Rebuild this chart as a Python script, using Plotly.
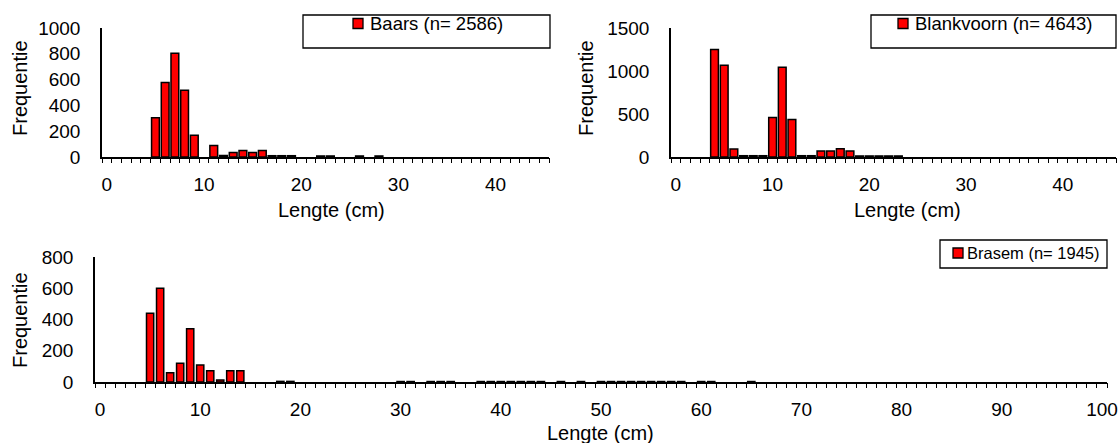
import plotly.graph_objects as go

# ---- data (length class in cm, frequency) ----
baars_len = [5, 6, 7, 8, 9, 11, 12, 13, 14, 15, 16, 17, 18, 19, 22, 23, 26, 28]
baars_cnt = [305, 577, 804, 517, 168, 90, 12, 34, 50, 34, 50, 10, 10, 10, 8, 8, 8, 8]

blank_len = [4, 5, 6, 7, 8, 9, 10, 11, 12, 13, 14, 15, 16, 17, 18, 19, 20, 21, 22, 23]
blank_cnt = [1249, 1066, 93, 15, 15, 15, 458, 1043, 435, 15, 15, 70, 70, 97, 70, 12, 12, 12, 12, 12]

brasem_len = [5, 6, 7, 8, 9, 10, 11, 12, 13, 14, 18, 19, 30, 31, 33, 34, 35, 38, 39, 40, 41,
              42, 43, 44, 46, 48, 50, 51, 52, 53, 54, 55, 56, 57, 58, 60, 61, 65]
brasem_cnt = [440, 600, 60, 120, 341, 109, 72, 13, 72, 72, 4, 4, 3, 3, 3, 3, 3, 3, 3, 3, 3,
              3, 3, 3, 3, 3, 3, 3, 3, 3, 3, 3, 3, 3, 3, 3, 3, 3]

names = ["Baars (n= 2586)", "Blankvoorn (n= 4643)", "Brasem (n= 1945)"]
x_title = "Lengte (cm)"
y_title = "Frequentie"

W, H = 1120, 443
FONT = "Liberation Sans, Arial, sans-serif"


def px(x):
    return x / W


def py(y):
    return 1 - y / H


fig = go.Figure()

bar_style = dict(marker=dict(color="#FF0000", line=dict(color="black", width=1.5)),
                 showlegend=False)
fig.add_trace(go.Bar(x=baars_len, y=baars_cnt, name=names[0], xaxis="x", yaxis="y",
                     width=0.8, **bar_style))
fig.add_trace(go.Bar(x=blank_len, y=blank_cnt, name=names[1], xaxis="x2", yaxis="y2",
                     width=0.8, **bar_style))
fig.add_trace(go.Bar(x=brasem_len, y=brasem_cnt, name=names[2], xaxis="x3", yaxis="y3",
                     width=0.72, **bar_style))

# invisible helper traces so the overlay tick axes get drawn
for xa, ya in [("x4", "y"), ("x5", "y2"), ("x6", "y3")]:
    fig.add_trace(go.Scatter(x=[0], y=[0], xaxis=xa, yaxis=ya, mode="markers",
                             marker=dict(opacity=0), showlegend=False, hoverinfo="skip"))


def xax(x0, x1, xmax, anchor):
    return dict(domain=[px(x0), px(x1)], range=[-0.5, xmax + 0.5], anchor=anchor,
                tickmode="linear", tick0=0, dtick=10, ticks="", ticklabelstandoff=9,
                showline=True, linecolor="black", linewidth=1.5,
                showgrid=False, zeroline=False,
                tickfont=dict(family=FONT, size=19, color="black"))


def tick_ax(x0, x1, xmax, anchor, over):
    return dict(domain=[px(x0), px(x1)], range=[-0.5, xmax + 0.5], anchor=anchor,
                overlaying=over, tickmode="linear", tick0=-0.5, dtick=1,
                ticks="outside", ticklen=5, tickwidth=1.3, tickcolor="black",
                showticklabels=False, showline=False, showgrid=False, zeroline=False)


def yax(y0, y1, ymax, step, anchor):
    return dict(domain=[py(y1), py(y0)], range=[0, ymax], anchor=anchor,
                tickmode="linear", tick0=0, dtick=step, ticks="",
                showline=True, linecolor="black", linewidth=1.5,
                showgrid=False, zeroline=False, ticklabelstandoff=16,
                tickfont=dict(family=FONT, size=19, color="black"))


fig.update_layout(
    width=W, height=H, margin=dict(l=0, r=0, t=0, b=0, autoexpand=False),
    paper_bgcolor="white", plot_bgcolor="rgba(0,0,0,0)", showlegend=False,
    font=dict(family=FONT, color="black"),
    xaxis=xax(102, 549, 45, "y"),
    yaxis=yax(28, 157, 1000, 200, "x"),
    xaxis2=xax(671, 1116, 45, "y2"),
    yaxis2=yax(28, 157, 1500, 500, "x2"),
    xaxis3=xax(95, 1107, 100, "y3"),
    yaxis3=yax(257, 382, 800, 200, "x3"),
    xaxis4=tick_ax(102, 549, 45, "y", "x"),
    xaxis5=tick_ax(671, 1116, 45, "y2", "x2"),
    xaxis6=tick_ax(95, 1107, 100, "y3", "x3"),
)

# legend boxes: frame, red key square, label
legends = [
    # frame x0, y0, x1, y1, key x, text x, center y, font size
    (303, 15, 550, 48, 353, 368, 23.5, 18.5),
    (871, 15, 1116, 48, 898, 913, 23.5, 18.5),
    (940, 240, 1107, 268, 953, 965, 253, 16.5),
]
for (name, (x0, y0, x1, y1, kx, tx, cy, fs)) in zip(names, legends):
    fig.add_shape(type="rect", xref="paper", yref="paper",
                  x0=px(x0), x1=px(x1), y0=py(y1), y1=py(y0),
                  line=dict(color="black", width=1.3), fillcolor="rgba(0,0,0,0)")
    fig.add_shape(type="rect", xref="paper", yref="paper",
                  x0=px(kx), x1=px(kx + 10), y0=py(cy + 5), y1=py(cy - 5),
                  line=dict(color="black", width=1.3), fillcolor="#FF0000")
    fig.add_annotation(text=name, x=px(tx), y=py(cy), xref="paper", yref="paper",
                       showarrow=False, xanchor="left", yanchor="middle",
                       font=dict(family=FONT, size=fs, color="black"))

# axis titles
ann_font = dict(family=FONT, size=20, color="black")
for (x, y) in [(331, 210), (907, 210), (600, 433)]:
    fig.add_annotation(text=x_title, x=px(x), y=py(y), xref="paper", yref="paper",
                       showarrow=False, font=ann_font, xanchor="center", yanchor="middle")
for (x, y) in [(20, 88), (586, 88), (20, 320)]:
    fig.add_annotation(text=y_title, x=px(x), y=py(y), xref="paper", yref="paper",
                       showarrow=False, font=ann_font, textangle=-90,
                       xanchor="center", yanchor="middle")

fig.write_html("out.html")
